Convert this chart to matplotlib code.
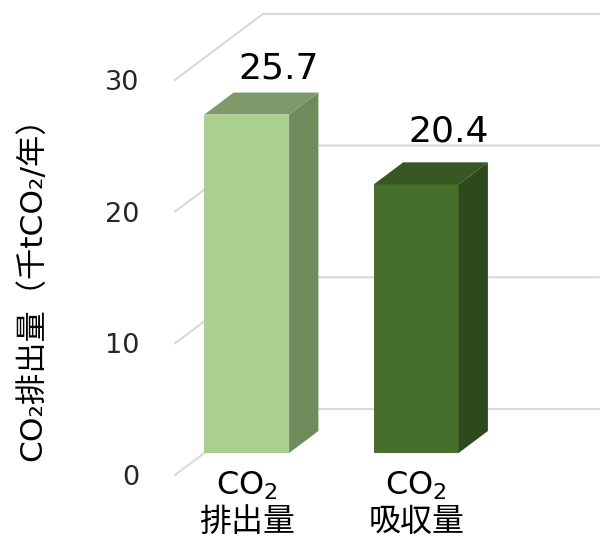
import matplotlib
matplotlib.use("Agg")
import matplotlib.pyplot as plt
from matplotlib.patches import Polygon

plt.rcParams['font.family'] = ['DejaVu Sans', 'Noto Sans CJK JP']
plt.rcParams['mathtext.fontset'] = 'custom'
plt.rcParams['mathtext.rm'] = 'DejaVu Sans'

# data
categories = ['CO$_2$\n排出量', 'CO$_2$\n吸収量']
values = [25.7, 20.4]
value_labels = ['25.7', '20.4']
yticks = [0, 10, 20, 30]
ylabel = 'CO₂排出量（千tCO₂/年）'

# style
front_colors = ['#A9D08E', '#476F2C']
top_colors = ['#7E9A6A', '#375723']
side_colors = ['#6E8B5B', '#2D4A1C']
label_dy = [10, 15]      # points above the bar top
grid_color = '#D9D9D9'
depth_x, depth_y = 0.519, 5.01   # depth vector in data units
bar_w = 0.5
xmin, xmax = -0.25, 2.25
ymin, ymax = 0, 36

fig = plt.figure(figsize=(6.03, 5.37), dpi=100)
W, H = 603, 537
px_x = 169.5   # px per category unit
px_y = 13.17   # px per value unit
left = 175
bottom = 62
ax = fig.add_axes([left / W, bottom / H, (xmax - xmin) * px_x / W, (ymax - ymin) * px_y / H])
ax.set_xlim(xmin, xmax)
ax.set_ylim(ymin, ymax)
for s in ax.spines.values():
    s.set_visible(False)

# pseudo-3d gridlines (side wall diagonal + back wall horizontal)
for v in yticks:
    ax.plot([xmin, xmin + depth_x, xmax], [v, v + depth_y, v + depth_y],
            color=grid_color, lw=1.5, clip_on=False, zorder=1)

# 3d bars, sitting in the middle third of the depth
fx, fy = depth_x / 3, depth_y / 3
for i, h in enumerate(values):
    l = i + fx - bar_w / 2
    r = i + fx + bar_w / 2
    b = fy
    t = h + fy
    front = Polygon([(l, b), (r, b), (r, t), (l, t)], closed=True,
                    fc=front_colors[i], ec='none', zorder=3, clip_on=False)
    side = Polygon([(r, b), (r + fx, b + fy), (r + fx, t + fy), (r, t)], closed=True,
                   fc=side_colors[i], ec='none', zorder=3, clip_on=False)
    top = Polygon([(l, t), (r, t), (r + fx, t + fy), (l + fx, t + fy)], closed=True,
                  fc=top_colors[i], ec='none', zorder=3, clip_on=False)
    ax.add_patch(front)
    ax.add_patch(side)
    ax.add_patch(top)
    ax.annotate(value_labels[i], xy=(i + 2 * fx, t + fy), xytext=(2, label_dy[i]),
                textcoords='offset points', ha='center', va='baseline',
                fontsize=26, color='#000000', zorder=4)

ax.set_xticks([i + fx for i in range(len(categories))])
ax.set_xticklabels(categories, fontsize=23, linespacing=1.22)
ax.set_yticks(yticks)
ax.set_yticklabels([str(v) for v in yticks], fontsize=19.5, color='#262626')
ax.tick_params(axis='both', length=0)
ax.tick_params(axis='y', pad=26)
ax.tick_params(axis='x', pad=-4)

ax.set_ylabel(ylabel, fontsize=22.5, va='center')
ax.yaxis.set_label_coords((32 - left) / ((xmax - xmin) * px_x), (256 - bottom) / ((ymax - ymin) * px_y))

fig.savefig('out.png', dpi=100)
